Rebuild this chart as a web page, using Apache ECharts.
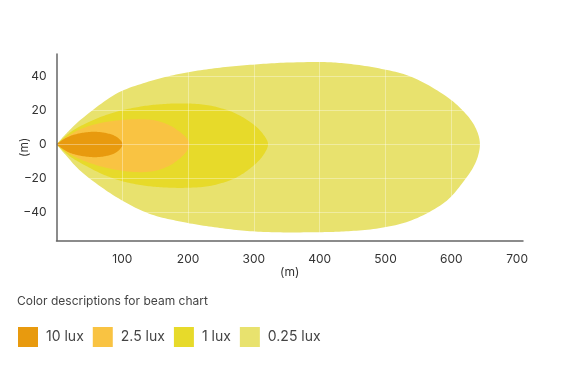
<!DOCTYPE html>
<html>
<head>
<meta charset="utf-8">
<script src="https://cdn.jsdelivr.net/npm/echarts@6/dist/echarts.min.js"></script>
<style>
  html, body { margin: 0; padding: 0; background: #fff; }
  #chart { width: 569px; height: 379px; }
</style>
</head>
<body>
<div id="chart"></div>
<script>
// ---- Data ----
const beamNames = ['10 lux', '2.5 lux', '1 lux', '0.25 lux'];
const xTickLabels = ['100', '200', '300', '400', '500', '600', '700'];
const yTickLabels = ['-40', '-20', '0', '20', '40'];

// Contours: [distance (m), lateral (m)], upper edge from origin to the tip, then lower edge back
const lux10Upper = [[0, 0], [10, 2.8], [20, 4.8], [30, 6.0], [40, 6.8], [55, 7.4], [70, 7.0], [85, 5.6], [95, 3.3], [100.5, 0]];
const lux10Lower = [[95, -3.4], [85, -5.8], [70, -7.2], [55, -7.5], [40, -6.9], [30, -6.1], [20, -4.9], [10, -2.8], [0, 0]];

const lux2_5Upper = [[0, 0], [20, 5.5], [40, 9.5], [70, 12.8], [100, 14.3], [127, 14.8], [150, 14.0], [170, 11.5], [185, 8.0], [197, 4.0], [202, 0]];
const lux2_5Lower = [[197, -4.5], [185, -9.0], [170, -12.8], [150, -15.5], [127, -16.3], [100, -15.5], [70, -13.2], [40, -9.4], [20, -5.6], [0, 0]];

const lux1Upper = [[0, 0], [20, 6.8], [40, 11.4], [70, 16.5], [100, 20.0], [130, 22.3], [160, 23.6], [195, 24.0], [230, 23.0], [260, 20.0], [280, 16.6], [300, 11.5], [314, 6.0], [321.5, 0]];
const lux1Lower = [[314, -6.5], [300, -12.3], [280, -18.0], [260, -21.6], [230, -24.6], [195, -25.5], [160, -25.2], [130, -24.0], [100, -21.6], [70, -17.5], [40, -11.6], [20, -6.9], [0, 0]];

const lux0_25Upper = [[0, 0], [15, 6.4], [40, 15.5], [90, 29.5], [140, 36.8], [190, 41.6], [240, 44.6], [290, 46.5], [340, 47.8], [400, 48.3], [440, 47.4], [490, 44.6], [540, 39.5], [590, 28.8], [620, 18.8], [637, 9.6], [643.5, 0]];
const lux0_25Lower = [[637, -10.6], [620, -21.0], [590, -34.0], [540, -44.5], [490, -49.2], [440, -51.0], [400, -51.5], [340, -51.6], [290, -50.8], [240, -48.6], [190, -45.4], [140, -40.5], [90, -30.7], [40, -16.8], [15, -6.7], [0, 0]];

// ---- Styles ----
const beamColors = {
  '10 lux': '#E89A0E',
  '2.5 lux': '#F9C342',
  '1 lux': '#E7DA2A',
  '0.25 lux': '#E8E26E'
};
const FONT = 'Inter, "Noto Sans", sans-serif';

// Rendering helper: smooth pixel-space outline through the given pixel points (Catmull-Rom)
function smoothOutline(p, steps) {
  const out = [];
  for (let i = 0; i < p.length - 1; i++) {
    const p0 = p[Math.max(i - 1, 0)], p1 = p[i], p2 = p[i + 1], p3 = p[Math.min(i + 2, p.length - 1)];
    for (let s = 0; s < steps; s++) {
      const t = s / steps, t2 = t * t, t3 = t2 * t;
      out.push([
        0.5 * (2 * p1[0] + (-p0[0] + p2[0]) * t + (2 * p0[0] - 5 * p1[0] + 4 * p2[0] - p3[0]) * t2 + (-p0[0] + 3 * p1[0] - 3 * p2[0] + p3[0]) * t3),
        0.5 * (2 * p1[1] + (-p0[1] + p2[1]) * t + (2 * p0[1] - 5 * p1[1] + 4 * p2[1] - p3[1]) * t2 + (-p0[1] + 3 * p1[1] - 3 * p2[1] + p3[1]) * t3)
      ]);
    }
  }
  out.push(p[p.length - 1]);
  return out;
}

function beamSeries(name, upper, lower) {
  const pts = upper.concat(lower);
  const color = beamColors[name];
  return {
    type: 'custom',
    name: name,
    coordinateSystem: 'cartesian2d',
    data: pts,
    encode: { x: 0, y: 1 },
    itemStyle: { color: color },
    clip: false,
    silent: true,
    z: 2,
    renderItem: function (params, api) {
      if (params.dataIndex !== 0) return null;
      const p = pts.map(function (d) { return api.coord(d); });
      return {
        type: 'polygon',
        shape: { points: smoothOutline(p, 12) },
        style: { fill: color, stroke: null, lineWidth: 0 }
      };
    }
  };
}

const chart = echarts.init(document.getElementById('chart'), null, { renderer: 'canvas' });
chart.setOption({
  animation: false,
  backgroundColor: '#ffffff',
  textStyle: { fontFamily: FONT },
  title: {
    text: 'Color descriptions for beam chart',
    left: 12,
    top: 290,
    textStyle: { fontFamily: FONT, fontSize: 12, fontWeight: 'normal', color: '#444' }
  },
  legend: {
    data: beamNames,
    left: 18,
    top: 327,
    icon: 'rect',
    itemWidth: 20,
    itemHeight: 20,
    itemGap: 9,
    padding: 0,
    selectedMode: false,
    textStyle: { fontFamily: FONT, fontSize: 14, color: '#444', padding: [0, 0, 0, 3] }
  },
  grid: { left: 56.5, top: 54, width: 466.5, height: 186.7, containLabel: false, outerBoundsMode: 'none' },
  xAxis: {
    type: 'value',
    min: 0,
    max: 709,
    interval: 100,
    z: 5,
    name: '(m)',
    nameLocation: 'middle',
    nameGap: 26,
    nameMoveOverlap: false,
    nameTextStyle: { fontFamily: FONT, fontSize: 12, color: '#333' },
    axisLine: { show: true, onZero: false, lineStyle: { color: '#666', width: 1.5 } },
    axisTick: { show: false },
    axisLabel: {
      margin: 12.5, fontSize: 12, color: '#333', fontFamily: FONT,
      showMinLabel: false, showMaxLabel: false,
      formatter: function (v) { const s = String(v); return xTickLabels.indexOf(s) >= 0 ? s : ''; }
    },
    splitLine: { show: true, lineStyle: { color: 'rgba(255,255,255,0.35)', width: 1 } }
  },
  yAxis: {
    type: 'value',
    min: -56.5,
    max: 53,
    splitNumber: 5,
    z: 5,
    name: '(m)',
    nameLocation: 'middle',
    nameGap: 26,
    nameRotate: 90,
    nameMoveOverlap: false,
    nameTextStyle: { fontFamily: FONT, fontSize: 12, color: '#333' },
    axisLine: { show: true, onZero: false, lineStyle: { color: '#666', width: 1.5 } },
    axisTick: { show: false },
    axisLabel: {
      margin: 10, fontSize: 12, color: '#333', fontFamily: FONT,
      showMinLabel: false, showMaxLabel: false,
      formatter: function (v) {
        const s = String(Math.round(v));
        return (yTickLabels.indexOf(s) >= 0 && Math.abs(v - Math.round(v)) < 1e-6) ? s.replace('-', '\u2212') : '';
      }
    },
    splitLine: { show: true, lineStyle: { color: 'rgba(255,255,255,0.35)', width: 1 } }
  },
  series: [
    beamSeries('0.25 lux', lux0_25Upper, lux0_25Lower),
    beamSeries('1 lux', lux1Upper, lux1Lower),
    beamSeries('2.5 lux', lux2_5Upper, lux2_5Lower),
    beamSeries('10 lux', lux10Upper, lux10Lower)
  ]
});
</script>
</body>
</html>
